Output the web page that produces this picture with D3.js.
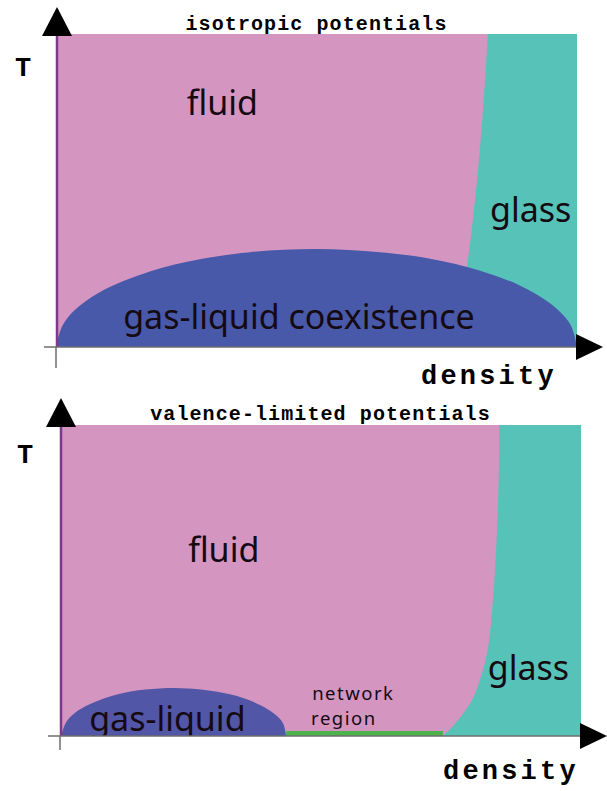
<!DOCTYPE html>
<html>

<head>
  <meta charset="utf-8" />
  <script src="https://cdn.jsdelivr.net/npm/d3@7"></script>
  <style>
    body {
      margin: 0;
      background: #fff;
    }

    .region-label {
      font-family: "Noto Sans", sans-serif;
      fill: #150a12;
    }

    .mono {
      font-family: "Liberation Mono", "DejaVu Sans Mono", monospace;
      font-weight: bold;
      fill: #000;
    }
  </style>
</head>

<body>
</body>
<script>
  "use strict";

  // [density, T], both axes normalised to 0..1
  var isoGlassLine = [
    [0.829, 1.0], [0.821, 0.789], [0.810, 0.565], [0.798, 0.374], [0.789, 0.256], [0.775, 0.0]
  ];
  var isoCoexDome = [
    [0.0, 0.0], [0.012, 0.067], [0.036, 0.118], [0.084, 0.175], [0.180, 0.241], [0.276, 0.280],
    [0.372, 0.303], [0.499, 0.313], [0.622, 0.303], [0.718, 0.282], [0.814, 0.244],
    [0.891, 0.196], [0.948, 0.140], [0.987, 0.073], [1.0, 0.0]
  ];

  var valGlassLine = [
    [0.843, 1.0], [0.843, 0.920], [0.841, 0.759], [0.837, 0.598], [0.831, 0.437], [0.821, 0.277],
    [0.806, 0.180], [0.791, 0.116], [0.764, 0.051], [0.747, 0.019], [0.735, 0.0]
  ];
  var valCoexDome = [
    [0.002, 0.0], [0.012, 0.045], [0.029, 0.075], [0.058, 0.103], [0.115, 0.136], [0.219, 0.154],
    [0.326, 0.134], [0.384, 0.100], [0.413, 0.069], [0.428, 0.041], [0.434, 0.0]
  ];
  var valNetworkDensity = [0.434, 0.735];
  var valNetworkT = 0.016;

  var titles = ["isotropic potentials", "valence-limited potentials"];
  var axisLabels = ["T", "density"];

  var colors = {
    fluid: "#d495c1",
    glass: "#57c2b8",
    green: "#4bb34b",
    axis: "#6e6e6e",
    edge: "#7d3a8a"
  };

  var panels = [{
    title: titles[0],
    box: { left: 56, right: 577, top: 34, bottom: 347 },
    glass: isoGlassLine,
    dome: isoCoexDome,
    domeColor: "#4759a8",
    network: null,
    axisEnd: 368,
    labels: [
      { text: "fluid", d: 0.251, t: 0.741, size: 34, sp: 0 },
      { text: "glass", d: 0.833, t: 0.399, size: 34, sp: 0 },
      { text: "gas-liquid coexistence", d: 0.129, t: 0.058, size: 34, sp: 0 }
    ],
    tPos: [15, 76],
    densPos: [421, 384],
    titleY: 30
  }, {
    title: titles[1],
    box: { left: 60, right: 581, top: 425, bottom: 736 },
    glass: valGlassLine,
    dome: valCoexDome,
    domeColor: "#5156a6",
    network: valNetworkDensity,
    axisEnd: 750,
    labels: [
      { text: "fluid", d: 0.246, t: 0.559, size: 34, sp: 0 },
      { text: "glass", d: 0.821, t: 0.180, size: 34, sp: 0 },
      { text: "gas-liquid", d: 0.056, t: 0.016, size: 34, sp: 0 },
      { text: "network", d: 0.484, t: 0.116, size: 18.5, sp: 1.5 },
      { text: "region", d: 0.482, t: 0.035, size: 18.5, sp: 1.5 }
    ],
    tPos: [17, 463],
    densPos: [443, 779],
    titleY: 420
  }];

  var svg = d3.select("body")
    .append("svg")
    .attr("width", 607)
    .attr("height", 791);

  panels.forEach(function(p, k) {
    var x = d3.scaleLinear().domain([0, 1]).range([p.box.left, p.box.right]);
    var y = d3.scaleLinear().domain([0, 1]).range([p.box.bottom, p.box.top]);

    var line = d3.line()
      .x(function(d) { return x(d[0]); })
      .y(function(d) { return y(d[1]); })
      .curve(d3.curveCatmullRom);

    var g = svg.append("g");

    var clipId = "clip" + k;
    g.append("clipPath").attr("id", clipId)
      .append("rect")
      .attr("x", x(0)).attr("y", y(1))
      .attr("width", x(1) - x(0)).attr("height", y(0) - y(1));

    var plot = g.append("g").attr("clip-path", "url(#" + clipId + ")");

    // fluid background
    plot.append("rect")
      .attr("x", x(0)).attr("y", y(1))
      .attr("width", x(1) - x(0)).attr("height", y(0) - y(1))
      .attr("fill", colors.fluid);

    // glass: right of the boundary line
    var glassPath = line(p.glass) + "L" + x(1) + "," + y(0) + "L" + x(1) + "," + y(1) + "Z";
    plot.append("path").attr("d", glassPath).attr("fill", colors.glass);

    // gas-liquid dome
    var domePath = line(p.dome) + "Z";
    plot.append("path").attr("d", domePath).attr("fill", p.domeColor);

    if (p.network) {
      plot.append("rect")
        .attr("x", x(p.network[0]))
        .attr("y", y(valNetworkT))
        .attr("width", x(p.network[1]) - x(p.network[0]))
        .attr("height", y(0) - y(valNetworkT))
        .attr("fill", colors.green);
    }

    plot.selectAll("text.region-label")
      .data(p.labels)
      .enter()
      .append("text")
      .attr("class", "region-label")
      .attr("x", function(d) { return x(d.d); })
      .attr("y", function(d) { return y(d.t); })
      .attr("font-size", function(d) { return d.size; })
      .attr("letter-spacing", function(d) { return d.sp; })
      .text(function(d) { return d.text; });

    // left edge of the fluid region
    g.append("line")
      .attr("x1", x(0) + 1).attr("x2", x(0) + 1)
      .attr("y1", y(1)).attr("y2", y(0))
      .attr("stroke", colors.edge).attr("stroke-width", 2.5);

    // axes
    g.append("line")
      .attr("x1", x(0) - 12).attr("x2", x(1))
      .attr("y1", y(0)).attr("y2", y(0))
      .attr("stroke", colors.axis).attr("stroke-width", 1.5);
    g.append("line")
      .attr("x1", x(0)).attr("x2", x(0))
      .attr("y1", y(0)).attr("y2", p.axisEnd)
      .attr("stroke", colors.axis).attr("stroke-width", 1.5);

    // arrow heads
    var ax = x(0) + 1, ay = y(1);
    g.append("path")
      .attr("d", "M" + ax + "," + (ay - 27) + "L" + (ax + 15) + "," + (ay + 2) + "L" + (ax - 15) + "," + (ay + 2) + "Z")
      .attr("fill", "#000");
    var bx = x(1), by = y(0);
    g.append("path")
      .attr("d", "M" + (bx - 1) + "," + (by - 13) + "L" + (bx + 26) + "," + by + "L" + (bx - 1) + "," + (by + 13) + "Z")
      .attr("fill", "#000");

    // titles and axis names
    g.append("text")
      .attr("class", "mono")
      .attr("x", (x(0) + x(1)) / 2)
      .attr("y", p.titleY)
      .attr("text-anchor", "middle")
      .attr("font-size", 20)
      .attr("letter-spacing", 1.1)
      .text(p.title);

    g.append("text")
      .attr("class", "mono")
      .attr("x", p.tPos[0])
      .attr("y", p.tPos[1])
      .attr("font-size", 27)
      .text(axisLabels[0]);

    g.append("text")
      .attr("class", "mono")
      .attr("x", p.densPos[0])
      .attr("y", p.densPos[1])
      .attr("font-size", 27)
      .attr("letter-spacing", 3.2)
      .text(axisLabels[1]);
  });
</script>

</html>
